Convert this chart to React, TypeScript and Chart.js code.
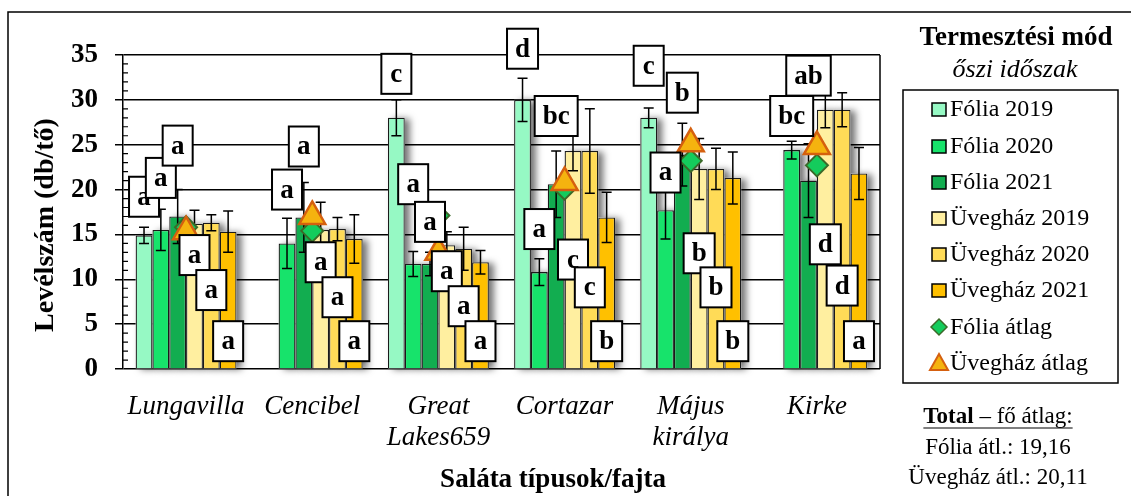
import React, { useEffect, useRef } from 'react';
import { Chart, registerables } from 'chart.js';
Chart.register(...registerables);

const FONT = "'Liberation Serif', 'Times New Roman', serif";

const categories = [['Lungavilla'], ['Cencibel'], ['Great', 'Lakes659'], ['Cortazar'], ['Május', 'királya'], ['Kirke']];
const seriesNames = ['Fólia 2019', 'Fólia 2020', 'Fólia 2021', 'Üvegház 2019', 'Üvegház 2020', 'Üvegház 2021'];
const seriesColors = ['#96F9C4', '#17E36B', '#12AD50', '#FFEFA0', '#FFDB57', '#FFC000'];

const folia2019 = [14.9, null, 28.0, 30.0, 28.0, null];
const folia2020 = [15.5, 14.0, 11.7, 10.8, 17.7, 24.4];
const folia2021 = [17.0, 16.9, 11.7, 20.6, 23.9, 21.0];
const uveg2019 = [16.2, 15.5, 13.8, 24.3, 22.3, 28.9];
const uveg2020 = [16.3, 15.6, 13.4, 24.3, 22.3, 28.9];
const uveg2021 = [15.3, 14.5, 11.9, 16.9, 21.3, 21.8];

const folia2019Err = [0.9, null, 2.0, 2.4, 1.1, null];
const folia2020Err = [2.3, 2.8, 1.4, 1.5, 3.2, 1.0];
const folia2021Err = [3.0, 3.9, 1.3, 3.7, 3.5, 4.1];
const uveg2019Err = [1.5, 3.1, 1.5, 2.2, 3.4, 2.0];
const uveg2020Err = [0.9, 1.3, 2.4, 4.7, 2.3, 1.9];
const uveg2021Err = [2.3, 2.7, 1.3, 2.8, 2.9, 2.9];

const foliaAvg = [15.8, 15.4, 17.1, 20.1, 23.2, 22.7];
const uvegAvg = [15.3, 17.0, 13.0, 20.8, 25.1, 24.8];

// significance letters and the value at which each letter box is centred
const folia2019Letters = ['a', null, 'c', 'd', 'c', null];
const folia2020Letters = ['a', 'a', 'a', 'a', 'a', 'bc'];
const folia2021Letters = ['a', 'a', 'a', 'bc', 'b', 'ab'];
const uveg2019Letters = ['a', 'a', 'a', 'c', 'b', 'd'];
const uveg2020Letters = ['a', 'a', 'a', 'c', 'b', 'd'];
const uveg2021Letters = ['a', 'a', 'a', 'b', 'b', 'a'];

const folia2019LetterAt = [19.2, null, 32.9, 35.7, 33.8, null];
const folia2020LetterAt = [21.3, 20.0, 20.6, 15.6, 21.9, 28.2];
const folia2021LetterAt = [24.9, 24.8, 16.4, 28.2, 30.8, 32.7];
const uveg2019LetterAt = [12.7, 11.9, 10.9, 12.2, 12.9, 13.9];
const uveg2020LetterAt = [8.8, 8.0, 7.0, 9.1, 9.1, 9.3];
const uveg2021LetterAt = [3.1, 3.1, 3.1, 3.1, 3.1, 3.1];

const yTicks = [0, 5, 10, 15, 20, 25, 30, 35];

const seriesValues = [folia2019, folia2020, folia2021, uveg2019, uveg2020, uveg2021];
const seriesErrors = [folia2019Err, folia2020Err, folia2021Err, uveg2019Err, uveg2020Err, uveg2021Err];
const seriesLetters = [folia2019Letters, folia2020Letters, folia2021Letters, uveg2019Letters, uveg2020Letters, uveg2021Letters];
const seriesLetterAt = [folia2019LetterAt, folia2020LetterAt, folia2021LetterAt, uveg2019LetterAt, uveg2020LetterAt, uveg2021LetterAt];

const BAR_COUNT = 6;
const DIAMOND_FILL = '#14CC5C';
const DIAMOND_LINE = '#3B6A29';
const TRI_FILL = '#F5B30F';
const TRI_LINE = '#D5600F';

const decorPlugin = {
  id: 'decor',
  beforeDatasetsDraw(chart: any) {
    const ctx = chart.ctx;
    ctx.save();
    ctx.shadowColor = 'rgba(0,0,0,0.55)';
    ctx.shadowBlur = 7;
    ctx.shadowOffsetX = 5;
    ctx.shadowOffsetY = 1;
    ctx.fillStyle = '#ffffff';
    for (let i = 0; i < BAR_COUNT; i++) {
      const meta = chart.getDatasetMeta(i);
      meta.data.forEach((el: any, j: number) => {
        if (seriesValues[i][j] == null) return;
        const w = el.width;
        ctx.fillRect(el.x - w / 2, el.y, w, el.base - el.y);
      });
    }
    ctx.restore();
  },
  afterDatasetDraw(chart: any, args: any) {
    const i = args.index;
    if (i >= BAR_COUNT) return;
    const ctx = chart.ctx;
    const ys = chart.scales.y;
    const meta = chart.getDatasetMeta(i);
    ctx.save();
    ctx.strokeStyle = '#000';
    ctx.lineWidth = 1.5;
    meta.data.forEach((el: any, j: number) => {
      const v = seriesValues[i][j];
      const e = seriesErrors[i][j];
      if (v == null || e == null) return;
      const yT = ys.getPixelForValue(v + e);
      const yB = ys.getPixelForValue(v - e);
      const x = el.x;
      ctx.beginPath();
      ctx.moveTo(x, yT); ctx.lineTo(x, yB);
      ctx.moveTo(x - 5, yT); ctx.lineTo(x + 5, yT);
      ctx.moveTo(x - 5, yB); ctx.lineTo(x + 5, yB);
      ctx.stroke();
    });
    ctx.restore();
  },
  afterDatasetsDraw(chart: any) {
    const ctx = chart.ctx;
    const ys = chart.scales.y;
    ctx.save();
    ctx.font = `bold 27px ${FONT}`;
    ctx.textAlign = 'center';
    ctx.textBaseline = 'middle';
    for (let i = 0; i < BAR_COUNT; i++) {
      const meta = chart.getDatasetMeta(i);
      meta.data.forEach((el: any, j: number) => {
        const t = seriesLetters[i][j];
        const at = seriesLetterAt[i][j];
        if (!t || at == null) return;
        const cy = ys.getPixelForValue(at);
        const tw = ctx.measureText(t).width;
        const bw = Math.max(30, tw + 16);
        const bh = 40;
        ctx.fillStyle = '#fff';
        ctx.fillRect(el.x - bw / 2, cy - bh / 2, bw, bh);
        ctx.strokeStyle = '#000';
        ctx.lineWidth = 2;
        ctx.strokeRect(el.x - bw / 2, cy - bh / 2, bw, bh);
        ctx.fillStyle = '#000';
        ctx.fillText(t, el.x, cy + 1);
      });
    }
    ctx.restore();
  },
  afterDraw(chart: any) {
    const ctx = chart.ctx;
    const area = chart.chartArea;
    const ys = chart.scales.y;
    ctx.save();
    // outer frame
    ctx.strokeStyle = '#000';
    ctx.lineWidth = 1.5;
    ctx.beginPath();
    ctx.moveTo(8, 497); ctx.lineTo(8, 12); ctx.lineTo(1132, 12);
    ctx.stroke();
    // right border of plot
    ctx.beginPath();
    ctx.moveTo(area.right, area.top); ctx.lineTo(area.right, area.bottom);
    ctx.stroke();
    // minor ticks
    ctx.lineWidth = 1.2;
    ctx.beginPath();
    for (let v = 1; v < 35; v++) {
      if (v % 5 === 0) continue;
      const y = ys.getPixelForValue(v);
      ctx.moveTo(area.left, y); ctx.lineTo(area.left + 5, y);
    }
    ctx.stroke();

    ctx.fillStyle = '#000';
    // y title
    ctx.save();
    ctx.translate(46, 225);
    ctx.rotate(-Math.PI / 2);
    ctx.font = `bold 28px ${FONT}`;
    ctx.textAlign = 'center';
    ctx.textBaseline = 'middle';
    ctx.fillText('Levélszám (db/tő)', 0, 0);
    ctx.restore();
    // x title
    ctx.font = `bold 27px ${FONT}`;
    ctx.textAlign = 'center';
    ctx.textBaseline = 'middle';
    ctx.fillText('Saláta típusok/fajta', 553, 480);

    // legend header
    ctx.font = `bold 27px ${FONT}`;
    ctx.fillText('Termesztési mód', 1016, 38);
    ctx.font = `italic 26px ${FONT}`;
    ctx.fillText('őszi időszak', 1015, 70);

    // legend box
    ctx.lineWidth = 1.5;
    ctx.strokeRect(903, 90, 215, 293);
    const rowY = [109, 146, 182, 218, 254, 290, 327, 363];
    const names = [...seriesNames, 'Fólia átlag', 'Üvegház átlag'];
    ctx.textAlign = 'left';
    ctx.font = `24px ${FONT}`;
    names.forEach((n, k) => {
      const y = rowY[k];
      const cx = 939;
      if (k < BAR_COUNT) {
        ctx.fillStyle = seriesColors[k];
        ctx.fillRect(cx - 7, y - 6, 14, 13);
        ctx.strokeStyle = '#000';
        ctx.lineWidth = 1.5;
        ctx.strokeRect(cx - 7, y - 6, 14, 13);
      } else if (k === BAR_COUNT) {
        ctx.beginPath();
        ctx.moveTo(cx, y - 8); ctx.lineTo(cx + 8, y); ctx.lineTo(cx, y + 8); ctx.lineTo(cx - 8, y); ctx.closePath();
        ctx.fillStyle = DIAMOND_FILL; ctx.fill();
        ctx.strokeStyle = DIAMOND_LINE; ctx.lineWidth = 1.5; ctx.stroke();
      } else {
        ctx.beginPath();
        ctx.moveTo(cx, y - 9); ctx.lineTo(cx + 9, y + 7); ctx.lineTo(cx - 9, y + 7); ctx.closePath();
        ctx.fillStyle = TRI_FILL; ctx.fill();
        ctx.strokeStyle = TRI_LINE; ctx.lineWidth = 2; ctx.stroke();
      }
      ctx.fillStyle = '#000';
      ctx.fillText(n, 950, y + 1);
    });

    // totals
    ctx.font = `bold 23px ${FONT}`;
    const t1 = 'Total';
    const w1 = ctx.measureText(t1).width;
    ctx.font = `23px ${FONT}`;
    const t2 = ' – fő átlag:';
    const w2 = ctx.measureText(t2).width;
    const sx = 998 - (w1 + w2) / 2;
    ctx.font = `bold 23px ${FONT}`;
    ctx.fillText(t1, sx, 417);
    ctx.font = `23px ${FONT}`;
    ctx.fillText(t2, sx + w1, 417);
    ctx.lineWidth = 1.2;
    ctx.strokeStyle = '#000';
    ctx.beginPath();
    ctx.moveTo(sx, 428); ctx.lineTo(sx + w1 + w2, 428);
    ctx.stroke();
    ctx.textAlign = 'center';
    ctx.fillText('Fólia átl.: 19,16', 998, 448);
    ctx.fillText('Üvegház átl.: 20,11', 998, 478);
    ctx.restore();
  },
};

export default function App() {
  const ref = useRef<HTMLCanvasElement | null>(null);
  useEffect(() => {
    if (!ref.current) return;
    const barSets = seriesNames.map((name, i) => ({
      type: 'bar' as const,
      label: name,
      data: seriesValues[i],
      backgroundColor: seriesColors[i],
      borderColor: '#1a1a1a',
      borderWidth: 1.3,
      categoryPercentage: 0.8,
      barPercentage: 1.0,
      order: 0,
    }));
    const chart = new Chart(ref.current, {
      type: 'bar',
      data: {
        labels: categories as any,
        datasets: [
          ...barSets,
          {
            type: 'line' as const,
            label: 'Fólia átlag',
            data: foliaAvg,
            showLine: false,
            pointStyle: 'rectRot',
            pointRadius: 11,
            pointBackgroundColor: DIAMOND_FILL,
            pointBorderColor: DIAMOND_LINE,
            pointBorderWidth: 2,
            order: -1,
          },
          {
            type: 'line' as const,
            label: 'Üvegház átlag',
            data: uvegAvg,
            showLine: false,
            pointStyle: 'triangle',
            pointRadius: 15,
            pointBackgroundColor: TRI_FILL,
            pointBorderColor: TRI_LINE,
            pointBorderWidth: 2.5,
            order: -2,
          },
        ] as any,
      },
      options: {
        responsive: false,
        animation: false,
        events: [],
        layout: { padding: { left: 0, top: 55, right: 251, bottom: 0 } },
        plugins: { legend: { display: false }, tooltip: { enabled: false }, title: { display: false } },
        scales: {
          x: {
            grid: { display: false },
            border: { display: false },
            ticks: {
              color: '#000',
              font: { family: FONT, size: 27, style: 'italic', lineHeight: 1.15 },
              padding: 14,
              maxRotation: 0,
              autoSkip: false,
            },
            afterFit: (s: any) => { s.height = 127; },
          },
          y: {
            min: 0,
            max: 35,
            afterBuildTicks: (s: any) => { s.ticks = yTicks.map((v) => ({ value: v })); },
            grid: { color: '#000', lineWidth: 1.5, tickLength: 8, tickColor: '#000' },
            border: { display: true, color: '#000', width: 1.5 },
            ticks: {
              color: '#000',
              font: { family: FONT, size: 27, weight: 'bold' },
              padding: 17,
            },
            afterFit: (s: any) => { s.width = 123; },
          },
        },
      },
      plugins: [decorPlugin],
    });
    return () => chart.destroy();
  }, []);
  return (
    <div style={{ position: 'absolute', left: 0, top: 0, width: 1131, height: 496, background: '#fff' }}>
      <canvas ref={ref} width={1131} height={496} />
    </div>
  );
}
